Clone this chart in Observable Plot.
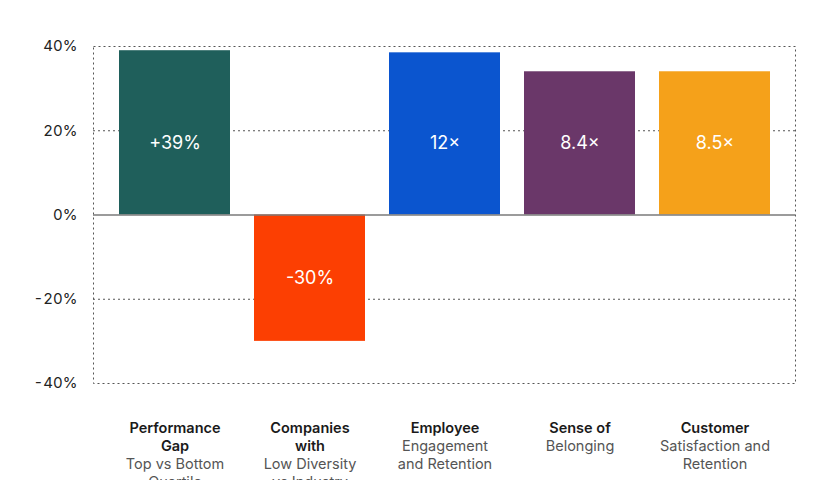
<!DOCTYPE html>
<html>
<head>
<meta charset="utf-8">
<script src="https://cdn.jsdelivr.net/npm/d3@7"></script>
<script src="https://cdn.jsdelivr.net/npm/@observablehq/plot@0.6"></script>
<style>
  html, body { margin: 0; padding: 0; background: #fff; overflow: hidden; }
  #chart { width: 840px; }
</style>
</head>
<body>
<div id="chart"></div>
<script>
// Category names: bold heading lines and regular description lines
const titles = [["Performance", "Gap"], ["Companies", "with"], ["Employee"], ["Sense of"], ["Customer"]];
const subtitles = [["Top vs Bottom", "Quartile"], ["Low Diversity", "vs Industry"], ["Engagement", "and Retention"], ["Belonging"], ["Satisfaction and", "Retention"]];
// Bar heights (percent) and the figures printed on each bar
const values = [39, -30, 38.5, 34, 34];
const valueLabels = ["+39%", "-30%", "12×", "8.4×", "8.5×"];
const colors = ["#1f5f5b", "#fc3f02", "#0b55cf", "#6a3769", "#f5a11a"];
const yTicks = [-40, -20, 0, 20, 40];

const keys = titles.map(t => t.join(" "));
const bars = keys.map((key, i) => ({key, value: values[i], label: valueLabels[i], color: colors[i]}));
const minPositive = d3.min(values.filter(v => v > 0));

// One row per text line under the bars
const lines = keys.flatMap((key, i) => [
  ...titles[i].map(text => ({key, text, bold: true})),
  ...subtitles[i].map(text => ({key, text, bold: false}))
].map((d, j) => ({...d, line: j})));

const lineHeight = 18;
const labelMarks = d3.groups(lines, d => d.line, d => d.bold).flatMap(([line, byWeight]) =>
  byWeight.map(([bold, rows]) => Plot.text(rows, {
    x: "key",
    text: "text",
    frameAnchor: "bottom",
    dy: 49 + line * lineHeight,
    fontSize: 14.5,
    fontWeight: bold ? 600 : 400,
    fill: bold ? "#1a1a1a" : "#555"
  }))
);

const chart = Plot.plot({
  width: 840,
  height: 480,
  marginLeft: 93,
  marginRight: 45,
  marginTop: 46,
  marginBottom: 97,
  style: {fontFamily: "Inter, 'Noto Sans', sans-serif", fontSize: "15px", color: "#222", background: "#fff"},
  x: {domain: keys, padding: 0.18, axis: null},
  y: {domain: [-40, 40], ticks: yTicks, tickFormat: d => `${d}%`, tickSize: 0, tickPadding: 16, label: null},
  color: {type: "identity"},
  marks: [
    Plot.ruleY([-20, 20], {stroke: "#555", strokeDasharray: "2,3"}),
    Plot.frame({stroke: "#555", strokeDasharray: "2,3"}),
    Plot.barY(bars, {x: "key", y: "value", fill: "color"}),
    Plot.ruleY([0], {stroke: "#7a7a7a", strokeWidth: 1.5}),
    Plot.text(bars, {
      x: "key",
      y: d => d.value > 0 ? minPositive / 2 : d.value / 2,
      text: "label",
      fill: "white",
      fontSize: 18
    }),
    ...labelMarks
  ]
});

document.getElementById("chart").append(chart);
</script>
</body>
</html>
